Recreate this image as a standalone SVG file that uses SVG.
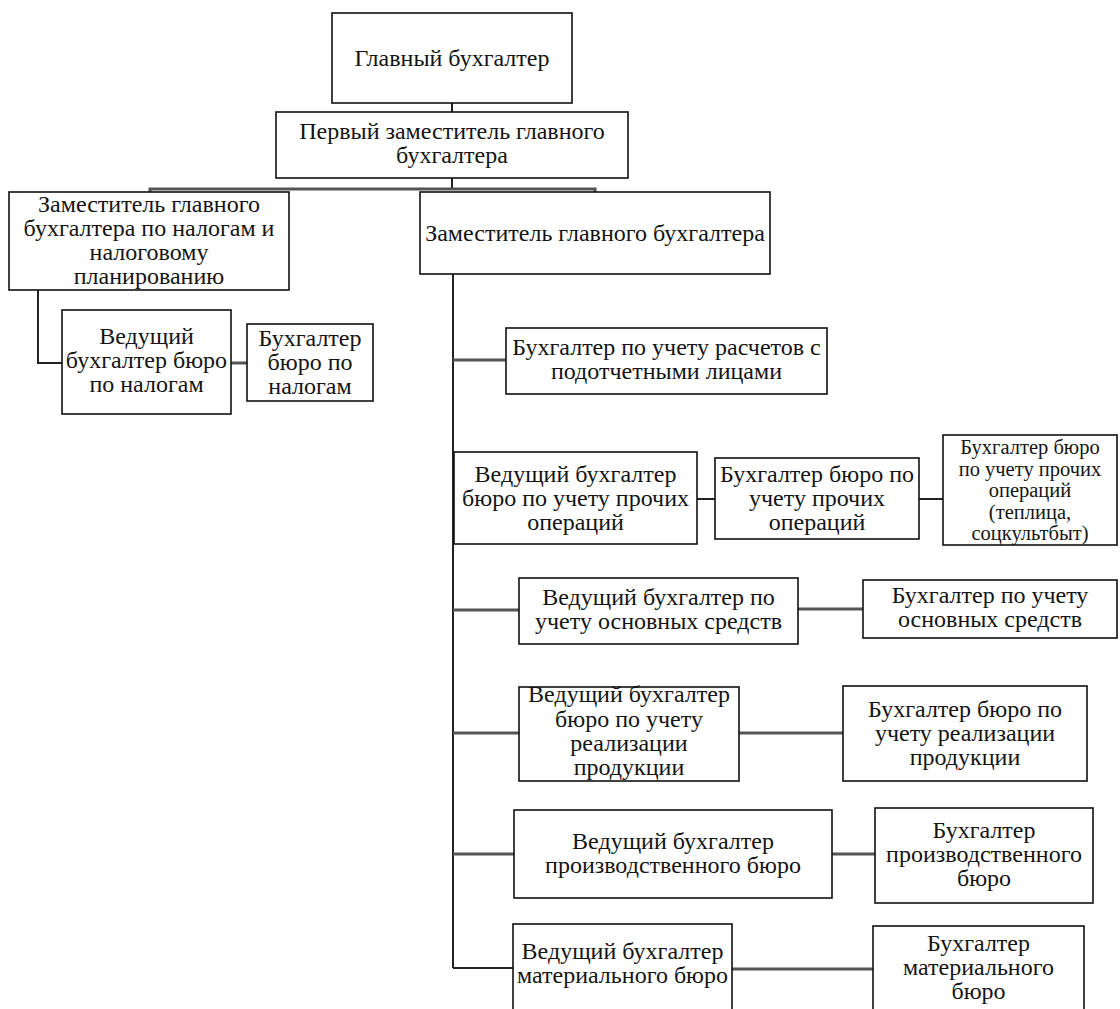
<svg xmlns="http://www.w3.org/2000/svg" width="1120" height="1009" viewBox="0 0 1120 1009">
<style>
.box{fill:#fff;stroke:#111;stroke-width:1.6}
.t{font-family:'Liberation Serif','Times New Roman',serif;font-size:24px;fill:#141414;text-anchor:middle}
.s{font-size:20.5px}
.c{stroke:#222;stroke-width:2;fill:none}
.g{stroke:#555;stroke-width:3;fill:none}
</style>
<rect width="1120" height="1009" fill="#fff"/>
<g id="connectors">
<path class="c" d="M452 103V112"/>
<path class="c" d="M452 178V190"/>
<path class="g" d="M150 192V189H595V192"/>
<path class="c" d="M453 274V968"/>
<path class="c" d="M38 290V363H62"/>
<path class="g" d="M231 363H247"/>
<path class="g" d="M453 360H506"/>
<path class="c" d="M697 499H715"/>
<path class="c" d="M919 499H943"/>
<path class="g" d="M453 610H519"/>
<path class="g" d="M798 609H863"/>
<path class="g" d="M453 733H519"/>
<path class="g" d="M739 733H843"/>
<path class="g" d="M453 854H514"/>
<path class="g" d="M832 854H875"/>
<path class="c" d="M453 968H513"/>
<path class="g" d="M732 969H873"/>
</g>
<g id="n1"><rect class="box" x="332" y="13" width="240" height="90"/><text class="t" x="452" y="66">Главный бухгалтер</text></g>
<g id="n2"><rect class="box" x="276" y="112" width="352" height="66"/><text class="t" x="452" y="139">Первый заместитель главного</text><text class="t" x="452" y="163">бухгалтера</text></g>
<g id="n3"><rect class="box" x="9" y="192" width="280" height="98"/><text class="t" x="149" y="212">Заместитель главного</text><text class="t" x="149" y="236">бухгалтера по налогам и</text><text class="t" x="149" y="260">налоговому</text><text class="t" x="149" y="284">планированию</text></g>
<g id="n4"><rect class="box" x="420" y="192" width="350" height="82"/><text class="t" x="595" y="241">Заместитель главного бухгалтера</text></g>
<g id="n5"><rect class="box" x="62" y="310" width="169" height="104"/><text class="t" x="146.5" y="344">Ведущий</text><text class="t" x="146.5" y="368">бухгалтер бюро</text><text class="t" x="146.5" y="392">по налогам</text></g>
<g id="n6"><rect class="box" x="247" y="324" width="126" height="77"/><text class="t" x="310" y="346">Бухгалтер</text><text class="t" x="310" y="370">бюро по</text><text class="t" x="310" y="394">налогам</text></g>
<g id="n7"><rect class="box" x="506" y="328" width="321" height="66"/><text class="t" x="666.5" y="355">Бухгалтер по учету расчетов с</text><text class="t" x="666.5" y="379">подотчетными лицами</text></g>
<g id="n8"><rect class="box" x="454" y="452" width="243" height="92"/><text class="t" x="575.5" y="482">Ведущий бухгалтер</text><text class="t" x="575.5" y="506">бюро по учету прочих</text><text class="t" x="575.5" y="530">операций</text></g>
<g id="n9"><rect class="box" x="715" y="458" width="204" height="81"/><text class="t" x="817" y="482">Бухгалтер бюро по</text><text class="t" x="817" y="506">учету прочих</text><text class="t" x="817" y="530">операций</text></g>
<g id="n10"><rect class="box" x="943" y="435" width="174" height="110"/><text class="t s" x="1030" y="454">Бухгалтер бюро</text><text class="t s" x="1030" y="475.5">по учету прочих</text><text class="t s" x="1030" y="497">операций</text><text class="t s" x="1030" y="518.5">(теплица,</text><text class="t s" x="1030" y="540">соцкультбыт)</text></g>
<g id="n11"><rect class="box" x="519" y="578" width="279" height="66"/><text class="t" x="658.5" y="605">Ведущий бухгалтер по</text><text class="t" x="658.5" y="629">учету основных средств</text></g>
<g id="n12"><rect class="box" x="863" y="580" width="254" height="58"/><text class="t" x="990" y="603">Бухгалтер по учету</text><text class="t" x="990" y="627">основных средств</text></g>
<g id="n13"><rect class="box" x="519" y="687" width="220" height="94"/><text class="t" x="629" y="702">Ведущий бухгалтер</text><text class="t" x="629" y="727">бюро по учету</text><text class="t" x="629" y="751">реализации</text><text class="t" x="629" y="775">продукции</text></g>
<g id="n14"><rect class="box" x="843" y="686" width="244" height="95"/><text class="t" x="965" y="717">Бухгалтер бюро по</text><text class="t" x="965" y="741">учету реализации</text><text class="t" x="965" y="765">продукции</text></g>
<g id="n15"><rect class="box" x="514" y="810" width="318" height="88"/><text class="t" x="673" y="849">Ведущий бухгалтер</text><text class="t" x="673" y="873">производственного бюро</text></g>
<g id="n16"><rect class="box" x="875" y="808" width="218" height="95"/><text class="t" x="984" y="838">Бухгалтер</text><text class="t" x="984" y="862">производственного</text><text class="t" x="984" y="886">бюро</text></g>
<g id="n17"><rect class="box" x="513" y="924" width="219" height="100"/><text class="t" x="622.5" y="959">Ведущий бухгалтер</text><text class="t" x="622.5" y="983">материального бюро</text></g>
<g id="n18"><rect class="box" x="873" y="926" width="211" height="100"/><text class="t" x="978.5" y="951">Бухгалтер</text><text class="t" x="978.5" y="975">материального</text><text class="t" x="978.5" y="999">бюро</text></g>
</svg>
